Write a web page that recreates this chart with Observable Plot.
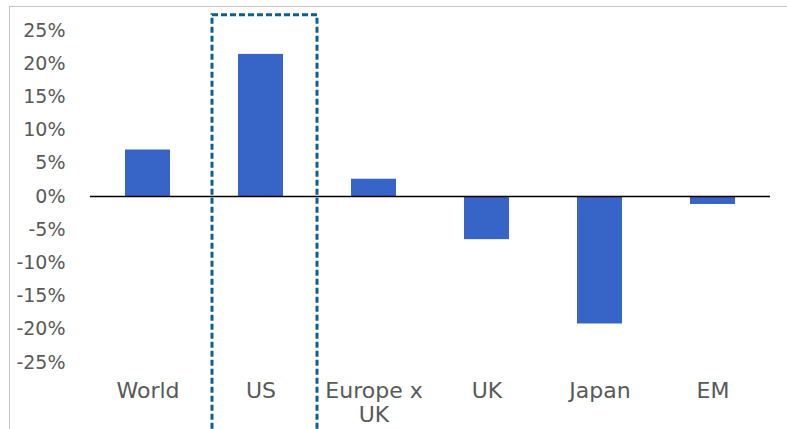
<!DOCTYPE html>
<html>
<head>
<meta charset="utf-8">
<script src="https://cdn.jsdelivr.net/npm/d3@7"></script>
<script src="https://cdn.jsdelivr.net/npm/@observablehq/plot@0.6"></script>
<style>
  html, body { margin: 0; padding: 0; background: #fff; }
  #wrap { position: relative; width: 787px; height: 429px; overflow: hidden; }
  #frame { position: absolute; left: 9px; top: 6px; right: -10px; bottom: -10px;
           border-left: 1.5px solid #c4c4c4; border-top: 1.5px solid #c4c4c4; pointer-events: none; }
</style>
</head>
<body>
<div id="wrap"><div id="frame"></div></div>
<script>
const regions = ["World", "US", "Europe x\nUK", "UK", "Japan", "EM"];
const returns = [7.0, 21.4, 2.6, -6.5, -19.2, -1.2];
const yTicks = [-25, -20, -15, -10, -5, 0, 5, 10, 15, 20, 25];
const highlight = ["US"];
const highlightTop = [27.3];
const highlightBottom = [-45];

const data = regions.map((r, i) => ({region: r, value: returns[i]}));
const box = highlight.map((r, i) => ({region: r, top: highlightTop[i], bottom: highlightBottom[i]}));

const chart = Plot.plot({
  width: 787,
  height: 429,
  marginTop: 30,
  marginBottom: 67,
  marginLeft: 90,
  marginRight: 17,
  style: {background: "transparent", overflow: "visible"},
  x: {domain: regions, paddingInner: 0.6, paddingOuter: 0.3, label: null},
  y: {domain: [-25, 25], label: null},
  marks: [
    Plot.barY(data, {x: "region", y: "value", fill: "#3765c7"}),
    Plot.ruleY([0], {stroke: "#000", strokeWidth: 1.5}),
    Plot.axisY({ticks: yTicks, tickFormat: d => `${d}%`, tickSize: 0, tickPadding: 25,
                fontSize: 19, fontFamily: "DejaVu Sans", fill: "#595959", label: null}),
    Plot.axisX({tickSize: 0, tickPadding: 19, fontSize: 22, fontFamily: "DejaVu Sans",
                fill: "#595959", lineHeight: 1.08, label: null}),
    Plot.rectY(box, {x: "region", y1: "bottom", y2: "top", fill: "none",
                     stroke: "#0f5f90", strokeWidth: 3, strokeDasharray: "6,3",
                     insetTop: 0, insetBottom: 0, insetLeft: -26, insetRight: -34})
  ]
});
document.getElementById("wrap").prepend(chart);
</script>
</body>
</html>
